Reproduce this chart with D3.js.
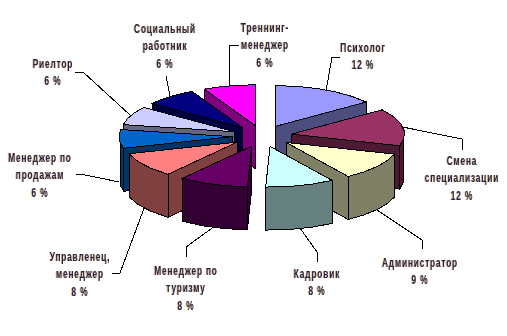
<!DOCTYPE html>
<html>
<head>
<meta charset="utf-8">
<script src="https://cdn.jsdelivr.net/npm/d3@7"></script>
<style>
    html, body { margin: 0; padding: 0; background: #fff; }
    svg { display: block; }
    .label {
        font-family: "Liberation Sans", sans-serif;
        font-size: 13.5px;
        font-weight: bold;
        letter-spacing: 1.3px;
        fill: #1c2450;
        text-anchor: middle;
        filter: drop-shadow(-0.7px 0 0 rgba(214, 130, 20, 0.75));
    }
    path { shape-rendering: crispEdges; }
</style>
</head>
<body>
<div id="chart"></div>
<script>
// Chart data, clockwise from 12 o'clock
const categories = [
    ['Психолог'],
    ['Смена', 'специализации'],
    ['Администратор'],
    ['Кадровик'],
    ['Менеджер по', 'туризму'],
    ['Управленец,', 'менеджер'],
    ['Менеджер по', 'продажам'],
    ['Риелтор'],
    ['Социальный', 'работник'],
    ['Треннинг-', 'менеджер']
];
const percents = [12, 12, 9, 8, 8, 8, 6, 6, 6, 6];
const topColors = ['#9999ff', '#993366', '#ffffcc', '#ccffff', '#660066', '#ff8080', '#0066cc', '#ccccff', '#000080', '#ff00ff'];
const sideColors = ['#4d4d80', '#4d1a33', '#808066', '#668080', '#330033', '#804040', '#003366', '#666680', '#000040', '#800080'];

// Label layout: centre x, first baseline y, and the leader bend points
const labelX = [363, 462, 420, 317, 186, 80, 40, 53, 165, 265];
const labelY = [52, 165, 267, 278, 275, 261, 162, 68, 33, 32];
const labelGap = 17.5;
const labelSquash = 0.62;
const leaderBends = [
    [[332, 57], [340, 57]],
    [[462, 139], [462, 150]],
    [[422, 240], [422, 249]],
    [[317, 252], [317, 262]],
    [[186, 247], [186, 257]],
    [[120, 273], [112, 273]],
    [[85, 175], [76, 174]],
    [[83, 72], [75, 72]],
    [[166, 76]],
    [[230, 45], [239, 45]]
];

const width = 507;
const height = 336;
const centerX = 262;
const centerY = 136;
const radius = 113;
const explode = 30;
const tilt = 0.36;
const depth = 43;
const arcStep = Math.PI / 14;

const svg = d3.select('#chart').append('svg')
    .attr('width', width)
    .attr('height', height);

const pie = d3.pie().sort(null).value(d => d)(percents);
const line = d3.line();

// Flat pie plane squashed by the tilt
function project(angle, dist, offset) {
    return [
        centerX + Math.sin(angle) * dist,
        centerY - Math.cos(angle) * dist * tilt + (offset || 0)
    ];
}

function rimAngles(a0, a1) {
    const steps = Math.max(1, Math.ceil((a1 - a0) / arcStep));
    return d3.range(steps + 1).map(i => a0 + (a1 - a0) * i / steps);
}

function drawSlice(slice) {
    const i = slice.index;
    const mid = (slice.startAngle + slice.endAngle) / 2;
    const apexAt = project(mid, explode);
    const point = a => {
        const p = project(a, radius);
        return [p[0] + apexAt[0] - centerX, p[1] + apexAt[1] - centerY];
    };
    const drop = p => [p[0], p[1] + depth];

    const g = svg.append('g');
    const rim = rimAngles(slice.startAngle, slice.endAngle);
    const first = point(slice.startAngle);
    const last = point(slice.endAngle);

    // Side walls, farthest first so front ones cover the back ones
    const walls = [
        [apexAt, first, drop(first), drop(apexAt)],
        [apexAt, last, drop(last), drop(apexAt)]
    ];
    const front = rim.filter(a => Math.cos(a) <= 0);
    if (front.length > 1) {
        const upper = front.map(point);
        walls.push(upper.concat(upper.map(drop).reverse()));
    }
    walls.sort((a, b) => d3.mean(a, p => p[1]) - d3.mean(b, p => p[1]));
    walls.forEach(w => {
        g.append('path')
            .attr('d', line(w) + 'Z')
            .attr('fill', sideColors[i])
            .attr('stroke', '#000');
    });

    g.append('path')
        .attr('d', line([apexAt].concat(rim.map(point))) + 'Z')
        .attr('fill', topColors[i])
        .attr('stroke', '#000');
}

function drawLabel(slice) {
    const i = slice.index;
    const mid = (slice.startAngle + slice.endAngle) / 2;
    const apexAt = project(mid, explode);
    const p = project(mid, radius);
    const start = [p[0] + apexAt[0] - centerX, p[1] + apexAt[1] - centerY + (Math.cos(mid) < 0.1 ? depth : 0)];

    svg.append('path')
        .attr('d', line([start].concat(leaderBends[i])))
        .attr('fill', 'none')
        .attr('stroke', '#000');

    // Narrow, tall lettering: no condensed face is installed, so squash in x
    const text = svg.append('text')
        .attr('class', 'label')
        .attr('transform', `translate(${labelX[i]},${labelY[i]}) scale(${labelSquash},1)`);
    categories[i].concat([percents[i] + ' %']).forEach((t, n) => {
        text.append('tspan')
            .attr('x', 0)
            .attr('y', n * labelGap)
            .text(t);
    });
}

// Back slices first
const order = pie.slice().sort((a, b) =>
    Math.cos((b.startAngle + b.endAngle) / 2) - Math.cos((a.startAngle + a.endAngle) / 2));

order.forEach(drawLabel);
order.forEach(drawSlice);
</script>
</body>
</html>
